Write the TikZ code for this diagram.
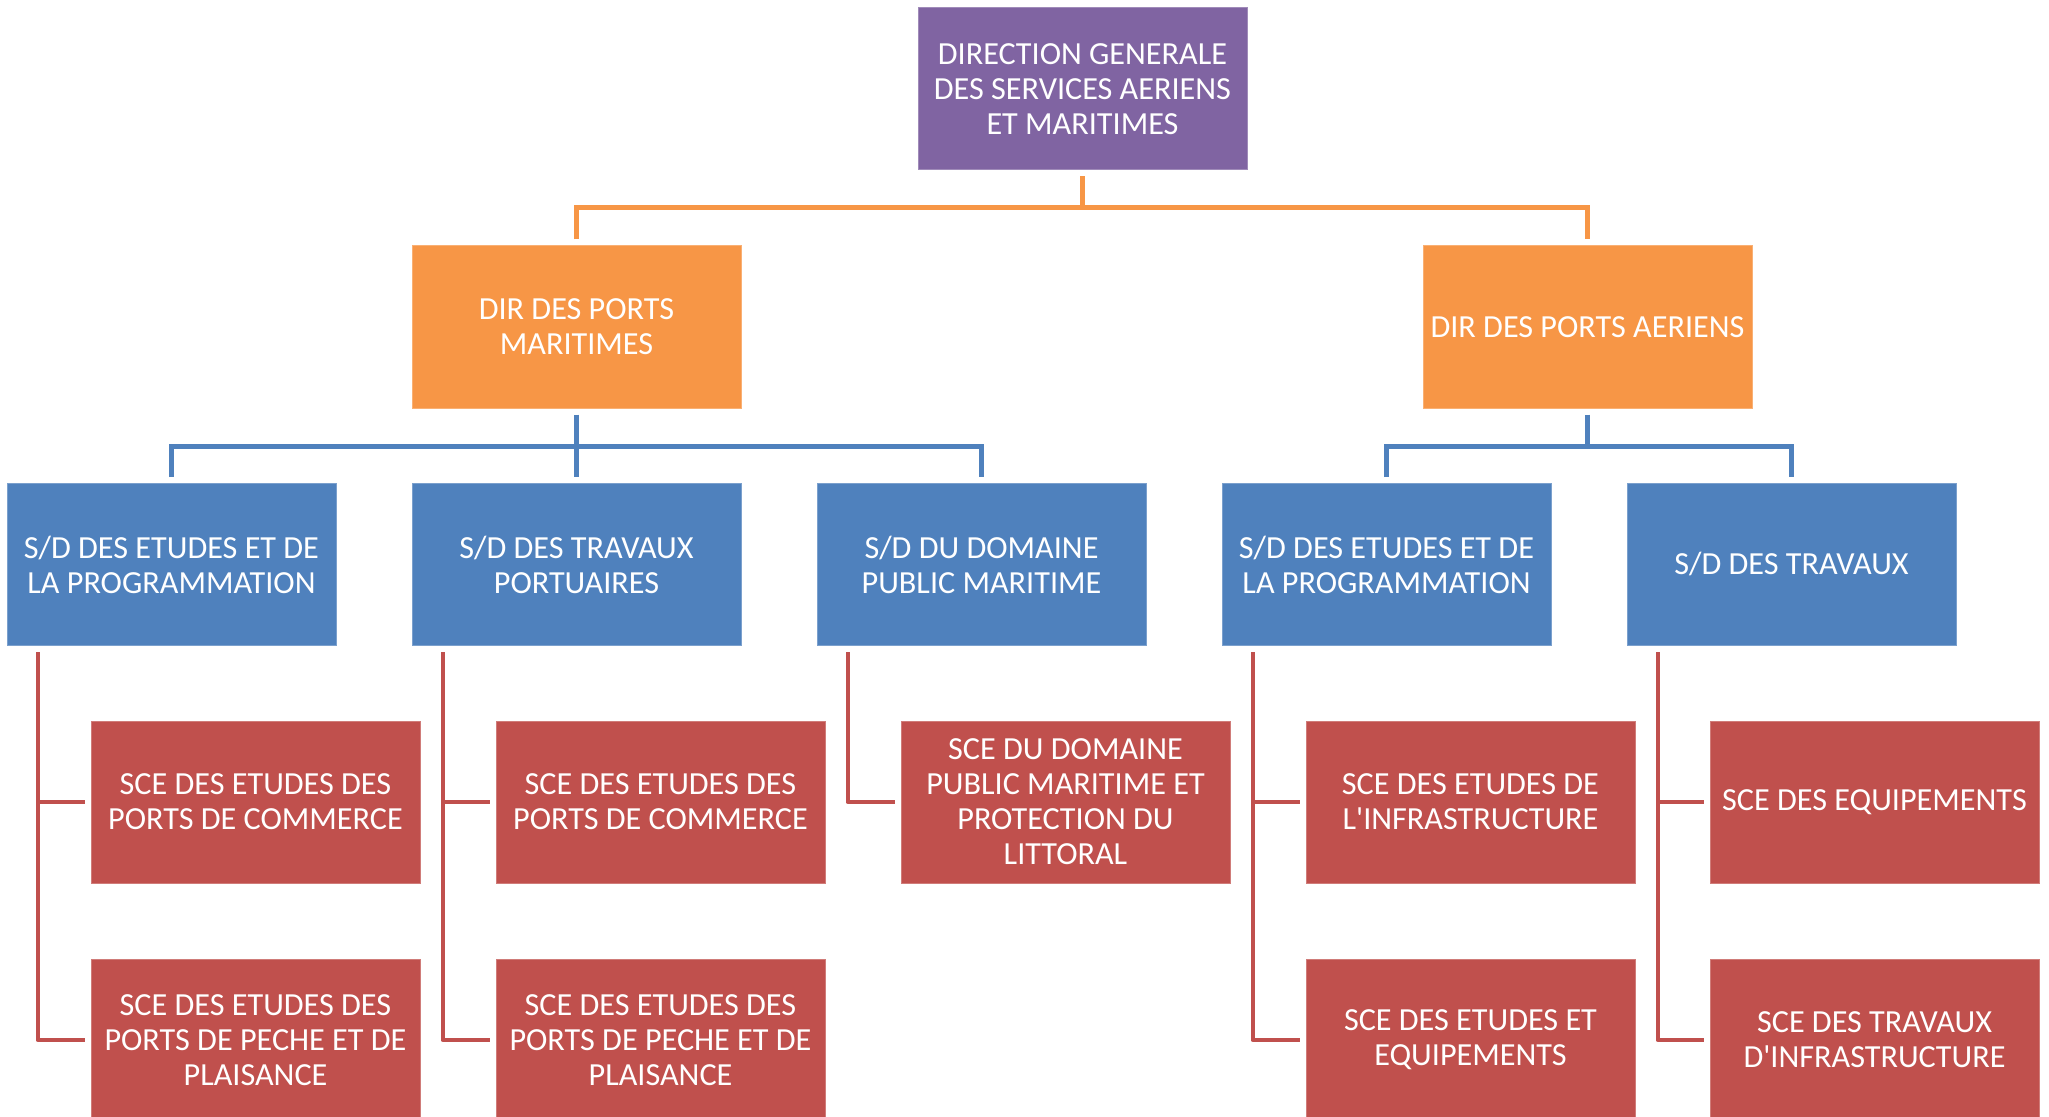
\documentclass[tikz,border=0pt]{standalone}
\usepackage{fontspec}
\setmainfont{Carlito}[Ligatures=TeXOff]
\definecolor{cpurple}{HTML}{8064A2}
\definecolor{corange}{HTML}{F79646}
\definecolor{cblue}{HTML}{4F81BD}
\definecolor{cred}{HTML}{C0504D}
\tikzset{
  box/.style={rectangle, minimum width=164.5pt, minimum height=81pt, inner sep=0pt,
    align=center, text=white, font=\fontsize{16.1}{17.5}\selectfont, line width=0.5pt},
  pbox/.style={box, fill=cpurple, draw=cpurple!75!white},
  obox/.style={box, fill=corange, draw=corange!75!white},
  bbox/.style={box, fill=cblue, draw=cblue!75!white},
  rbox/.style={box, fill=cred, draw=cred!75!white},
  oline/.style={draw=corange, line width=2.5pt},
  bline/.style={draw=cblue, line width=2.5pt},
  rline/.style={draw=cred, line width=2pt, line join=round},
}
\begin{document}
\begin{tikzpicture}[x=0.5pt, y=-0.5pt]
\useasboundingbox (0,0) rectangle (2049,1117);
\begin{scope}
\clip (0,0) rectangle (2049,1117);
% nodes
\node[pbox] (top) at (1082.5,89) {DIRECTION GENERALE\\DES SERVICES AERIENS\\ET MARITIMES};
\node[obox] (om) at (576.5,327) {DIR DES PORTS\\MARITIMES};
\node[obox] (oa) at (1587.5,327) {DIR DES PORTS AERIENS};
\node[bbox] (b1) at (171.5,564.5) {S/D DES ETUDES ET DE\\LA PROGRAMMATION};
\node[bbox] (b2) at (576.5,564.5) {S/D DES TRAVAUX\\PORTUAIRES};
\node[bbox] (b3) at (981.5,564.5) {S/D DU DOMAINE\\PUBLIC MARITIME};
\node[bbox] (b4) at (1386.5,564.5) {S/D DES ETUDES ET DE\\LA PROGRAMMATION};
\node[bbox] (b5) at (1791.5,564.5) {S/D DES TRAVAUX};
\node[rbox] (r1a) at (255.5,802) {SCE DES ETUDES DES\\PORTS DE COMMERCE};
\node[rbox] (r1b) at (255.5,1040) {SCE DES ETUDES DES\\PORTS DE PECHE ET DE\\PLAISANCE};
\node[rbox] (r2a) at (660.5,802) {SCE DES ETUDES DES\\PORTS DE COMMERCE};
\node[rbox] (r2b) at (660.5,1040) {SCE DES ETUDES DES\\PORTS DE PECHE ET DE\\PLAISANCE};
\node[rbox] (r3a) at (1065.5,802) {SCE DU DOMAINE\\PUBLIC MARITIME ET\\PROTECTION DU\\LITTORAL};
\node[rbox] (r4a) at (1470.5,802) {SCE DES ETUDES DE\\L'INFRASTRUCTURE};
\node[rbox] (r4b) at (1470.5,1040) {SCE DES ETUDES ET\\EQUIPEMENTS};
\node[rbox] (r5a) at (1874.5,802) {SCE DES EQUIPEMENTS};
\node[rbox] (r5b) at (1874.5,1040) {SCE DES TRAVAUX\\D'INFRASTRUCTURE};
% orange connectors
\coordinate (obar) at (0,208);
\draw[oline] ([yshift=-3pt]top.south) -- (top.south |- obar);
\draw[oline] ([yshift=3pt]om.north) -- (om.north |- obar) -- (oa.north |- obar) -- ([yshift=3pt]oa.north);
% blue connectors
\coordinate (bbar) at (0,446);
\draw[bline] ([yshift=-3pt]om.south) -- ([yshift=3pt]b2.north);
\draw[bline] ([yshift=3pt]b1.north) -- (b1.north |- bbar) -- (b3.north |- bbar) -- ([yshift=3pt]b3.north);
\draw[bline] ([yshift=-3pt]oa.south) -- (oa.south |- bbar);
\draw[bline] ([yshift=3pt]b4.north) -- (b4.north |- bbar) -- (b5.north |- bbar) -- ([yshift=3pt]b5.north);
% red connectors
\foreach \b/\ra/\rb in {b1/r1a/r1b, b2/r2a/r2b, b4/r4a/r4b, b5/r5a/r5b}{
  \coordinate (s) at ([xshift=15.5pt,yshift=-3pt]\b.south west);
  \draw[rline] (s) |- ([xshift=-3pt]\rb.west);
  \draw[rline] ([xshift=-3pt]\ra.west) -- (s |- \ra.west);
}
\coordinate (s3) at ([xshift=15.5pt,yshift=-3pt]b3.south west);
\draw[rline] (s3) |- ([xshift=-3pt]r3a.west);
\end{scope}
\end{tikzpicture}
\end{document}
